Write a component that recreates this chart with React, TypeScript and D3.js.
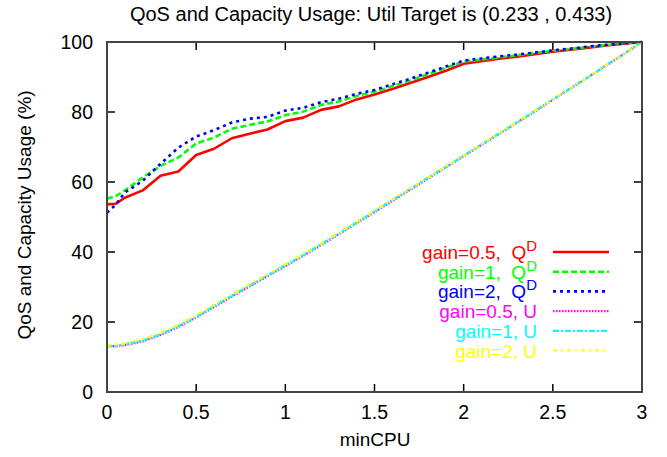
import React from "react";
import * as d3 from "d3";

const xValues = [0, 0.05, 0.1, 0.2, 0.3, 0.4, 0.5, 0.6, 0.7, 0.8, 0.9, 1.0, 1.1, 1.2, 1.3, 1.4, 1.5, 1.6, 1.7, 1.8, 1.9, 2.0, 2.1, 2.2, 2.3, 2.4, 2.5, 2.6, 2.7, 2.8, 2.9, 3.0];

const qdGain05 = [53.6, 53.8, 55.5, 57.6, 61.8, 63.0, 67.7, 69.5, 72.5, 73.8, 75.0, 77.4, 78.4, 80.6, 81.6, 83.6, 85.0, 86.6, 88.3, 90.0, 91.8, 93.8, 94.5, 95.2, 95.8, 96.5, 97.2, 97.8, 98.4, 99.0, 99.5, 100];
const qdGain1 = [55.2, 56.0, 57.6, 61.3, 64.6, 67.0, 71.0, 72.7, 75.2, 76.3, 77.3, 79.1, 80.1, 82.0, 83.0, 84.6, 85.8, 87.4, 89.0, 90.8, 92.6, 94.4, 95.0, 95.6, 96.2, 96.9, 97.5, 98.0, 98.6, 99.1, 99.6, 100];
const qdGain2 = [51.2, 53.6, 57.0, 60.3, 65.2, 69.8, 73.0, 74.8, 77.0, 78.1, 78.6, 80.4, 81.2, 82.8, 83.8, 85.2, 86.3, 87.9, 89.5, 91.2, 93.0, 94.7, 95.3, 95.9, 96.4, 97.0, 97.6, 98.1, 98.7, 99.2, 99.6, 100];
const uGain05 = [13.0, 13.1, 13.4, 14.5, 16.3, 18.6, 21.3, 24.3, 27.3, 30.2, 33.1, 36.0, 38.9, 42.0, 45.1, 48.3, 51.4, 54.6, 57.8, 61.0, 64.2, 67.4, 70.6, 73.8, 77.0, 80.2, 83.5, 86.8, 90.0, 93.3, 96.6, 100];
const uGain1 = [13.1, 13.2, 13.6, 14.7, 16.5, 18.8, 21.5, 24.5, 27.5, 30.4, 33.3, 36.2, 39.1, 42.2, 45.3, 48.4, 51.6, 54.8, 58.0, 61.2, 64.3, 67.5, 70.7, 73.9, 77.1, 80.3, 83.6, 86.8, 90.0, 93.4, 96.7, 100];
const uGain2 = [13.3, 13.4, 13.9, 15.1, 16.9, 19.2, 21.9, 24.9, 27.9, 30.8, 33.6, 36.5, 39.4, 42.4, 45.5, 48.6, 51.8, 55.0, 58.1, 61.3, 64.4, 67.6, 70.8, 74.0, 77.2, 80.4, 83.6, 86.9, 90.1, 93.4, 96.7, 100];

const seriesLabels = ["gain=0.5,  Q", "gain=1,  Q", "gain=2,  Q", "gain=0.5, U", "gain=1, U", "gain=2, U"];
const seriesSup = ["D", "D", "D", "", "", ""];
const seriesColors = ["#ff0000", "#00ff00", "#0000ff", "#ff00ff", "#00ffff", "#ffff00"];
const seriesDash = ["none", "6,3", "3,4", "1.5,1.5", "6,2,2,2", "4,4,2,4"];
const seriesData = [qdGain05, qdGain1, qdGain2, uGain05, uGain1, uGain2];

const xTicks = [0, 0.5, 1, 1.5, 2, 2.5, 3];
const yTicks = [0, 20, 40, 60, 80, 100];

const titleText = "QoS and Capacity Usage: Util Target is (0.233 , 0.433)";
const xLabel = "minCPU";
const yLabel = "QoS and Capacity Usage (%)";

export default function App() {
  const W = 667, H = 457;
  const left = 107, right = 642, top = 42, bottom = 392;
  const x = d3.scaleLinear().domain([0, 3]).range([left, right]);
  const y = d3.scaleLinear().domain([0, 100]).range([bottom, top]);
  const font = "'Liberation Sans', Arial, Helvetica, sans-serif";
  const tickLen = 8;

  const lines = seriesData.map((vals) =>
    d3.line<number>().x((_, i) => x(xValues[i])).y((v) => y(v))(vals) || ""
  );

  const legendRowY = (i: number) => 252 + i * 19.7;
  const legendTextX = 537;
  const legendLineX1 = 553, legendLineX2 = 609;

  return (
    <svg width={W} height={H} style={{ position: "absolute", left: 0, top: 0 }} fontFamily={font}>
      <rect x={0} y={0} width={W} height={H} fill="#fff" />
      <text x={371} y={21} textAnchor="middle" fontSize={20} fill="#000">{titleText}</text>

      {/* ticks */}
      {xTicks.map((t) => (
        <g key={"xt" + t}>
          <line x1={x(t)} x2={x(t)} y1={bottom} y2={bottom - tickLen} stroke="#000" strokeWidth={1.5} />
          <line x1={x(t)} x2={x(t)} y1={top} y2={top + tickLen} stroke="#000" strokeWidth={1.5} />
          <text x={x(t)} y={419} textAnchor="middle" fontSize={19.5} fill="#000">{String(t)}</text>
        </g>
      ))}
      {yTicks.map((t) => (
        <g key={"yt" + t}>
          <line x1={left} x2={left + tickLen} y1={y(t)} y2={y(t)} stroke="#000" strokeWidth={1.5} />
          <line x1={right} x2={right - tickLen} y1={y(t)} y2={y(t)} stroke="#000" strokeWidth={1.5} />
          <text x={93} y={y(t)} dy="0.36em" textAnchor="end" fontSize={19.5} fill="#000">{String(t)}</text>
        </g>
      ))}

      <text x={375} y={446} textAnchor="middle" fontSize={19} fill="#000">{xLabel}</text>
      <text transform={`translate(31, ${(top + bottom) / 2 - 2}) rotate(-90)`} textAnchor="middle" fontSize={19} fill="#000">{yLabel}</text>

      {/* series */}
      {lines.map((d, i) => (
        <path key={"s" + i} d={d} fill="none" stroke={seriesColors[i]} strokeWidth={i < 3 ? 2.6 : 2.4}
          strokeDasharray={seriesDash[i]} strokeLinejoin="round" />
      ))}

      {/* legend */}
      {seriesLabels.map((lab, i) => (
        <g key={"lg" + i}>
          <text x={legendTextX} y={legendRowY(i) + 7} textAnchor="end" fontSize={19} fill={seriesColors[i]}
            style={{ whiteSpace: "pre" }}>
            {lab}
            {seriesSup[i] ? <tspan dy={-8} fontSize={15}>{seriesSup[i]}</tspan> : null}
          </text>
          <line x1={legendLineX1} x2={legendLineX2} y1={legendRowY(i)} y2={legendRowY(i)}
            stroke={seriesColors[i]} strokeWidth={i < 3 ? 2.6 : 2.2} strokeDasharray={seriesDash[i]} />
        </g>
      ))}

      {/* frame */}
      <rect x={left} y={top} width={right - left} height={bottom - top} fill="none" stroke="#444" strokeWidth={2} />
    </svg>
  );
}
